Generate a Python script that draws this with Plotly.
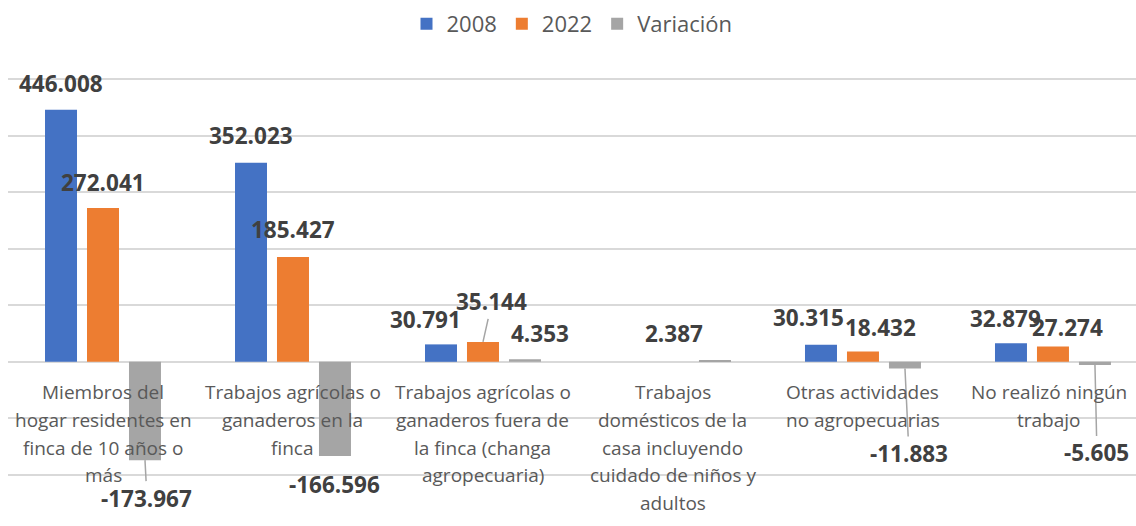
import plotly.graph_objects as go

# ---- data ----
categories = [
    "Miembros del<br>hogar residentes en<br>finca de 10 años o<br>más",
    "Trabajos agrícolas o<br>ganaderos en la<br>finca",
    "Trabajos agrícolas o<br>ganaderos fuera de<br>la finca (changa<br>agropecuaria)",
    "Trabajos<br>domésticos de la<br>casa incluyendo<br>cuidado de niños y<br>adultos",
    "Otras actividades<br>no agropecuarias",
    "No realizó ningún<br>trabajo",
]
series_names = ["2008", "2022", "Variación"]
values_2008 = [446008, 352023, 30791, None, 30315, 32879]
values_2022 = [272041, 185427, 35144, None, 18432, 27274]
values_var = [-173967, -166596, 4353, 2387, -11883, -5605]

# ---- style ----
colors = ["#4472C4", "#ED7D31", "#A5A5A5"]
label_color = "#404040"
axis_text_color = "#595959"
grid_color = "#D9D9D9"
FONT = "Open Sans"
bargap = 0.337
bargroupgap = 0.238

# label pixel offsets per series / category: (dx, dy, leader)  dy = distance from bar end (away from zero)
label_offsets = [
    [(0, 26, False), (0, 27, False), (-16, 25, False), None, (-12, 27, False), (-5, 25, False)],
    [(0, 26, False), (0, 27, False), (9, 40, True), None, (18, 24, False), (15, 19, False)],
    [(2, 38, True), (0, 29, False), (15, 26, False), (-41, 27, False), (4, 85, True), (2, 88, True)],
]

all_values = [values_2008, values_2022, values_var]


def fmt(v):
    return f"{v:,}".replace(",", ".")


fig = go.Figure()
for name, vals, col in zip(series_names, all_values, colors):
    fig.add_trace(go.Bar(
        x=categories, y=vals, name=name,
        marker=dict(color=col, line=dict(width=0)),
        hoverinfo="skip",
    ))

annotations = []
# data labels
slot = (1 - bargap) / 3
for k, vals in enumerate(all_values):
    for i, v in enumerate(vals):
        off = label_offsets[k][i]
        if v is None or off is None:
            continue
        dx, dy, leader = off
        xpos = i + (k - 1) * slot
        sign = 1 if v >= 0 else -1
        text = "<b>" + fmt(v) + "</b>"
        fnt = dict(family=FONT, size=22.5, color=label_color)
        if leader:
            annotations.append(dict(
                x=xpos, y=v, xref="x", yref="y", text=text, font=fnt,
                showarrow=True, arrowhead=0, arrowwidth=1.5, arrowcolor="#A5A5A5",
                ax=dx, ay=-sign * dy, standoff=0,
            ))
        else:
            annotations.append(dict(
                x=xpos, y=v, xref="x", yref="y", text=text, font=fnt,
                showarrow=False, xshift=dx, yshift=sign * dy,
                xanchor="center", yanchor="middle",
            ))

# category labels (just below the zero line)
line_gap = 27.7
first_line = 30.5
last_shift = [0, 0, 0, 0, 0, -4]
for i, cat in enumerate(categories):
    for j, line in enumerate(cat.split("<br>")):
        annotations.append(dict(
            x=i, y=0, xref="x", yref="y", text=line,
            font=dict(family=FONT, size=19, color=axis_text_color),
            showarrow=False, xanchor="center", yanchor="middle",
            yshift=-(first_line + j * line_gap), xshift=last_shift[i],
        ))

fig.update_layout(
    width=1136, height=526, autosize=False,
    margin=dict(l=8, r=0, t=78, b=50, pad=0, autoexpand=False),
    paper_bgcolor="white", plot_bgcolor="white",
    barmode="group", bargap=bargap, bargroupgap=bargroupgap,
    font=dict(family=FONT, color=axis_text_color),
    showlegend=True,
    legend=dict(
        orientation="h", x=0.5, xanchor="center",
        yref="container", y=1 - 24 / 526, yanchor="middle",
        font=dict(family=FONT, size=22, color=axis_text_color),
        itemwidth=30, traceorder="normal",
    ),
    annotations=annotations,
    hovermode=False,
)
fig.update_xaxes(
    type="category", range=[-0.5, 5.437], showticklabels=False,
    showgrid=False, zeroline=False, showline=False, ticks="",
)
fig.update_yaxes(
    range=[-202000, 502000], tick0=0, dtick=100000, showticklabels=False,
    showgrid=True, gridcolor=grid_color, gridwidth=1.7,
    zeroline=True, zerolinecolor=grid_color, zerolinewidth=1.7,
    showline=False, ticks="",
)

fig.write_html(
    "out.html",
    config={"displayModeBar": False},
    post_script="document.body.style.margin='0';document.body.style.overflow='hidden';",
)
